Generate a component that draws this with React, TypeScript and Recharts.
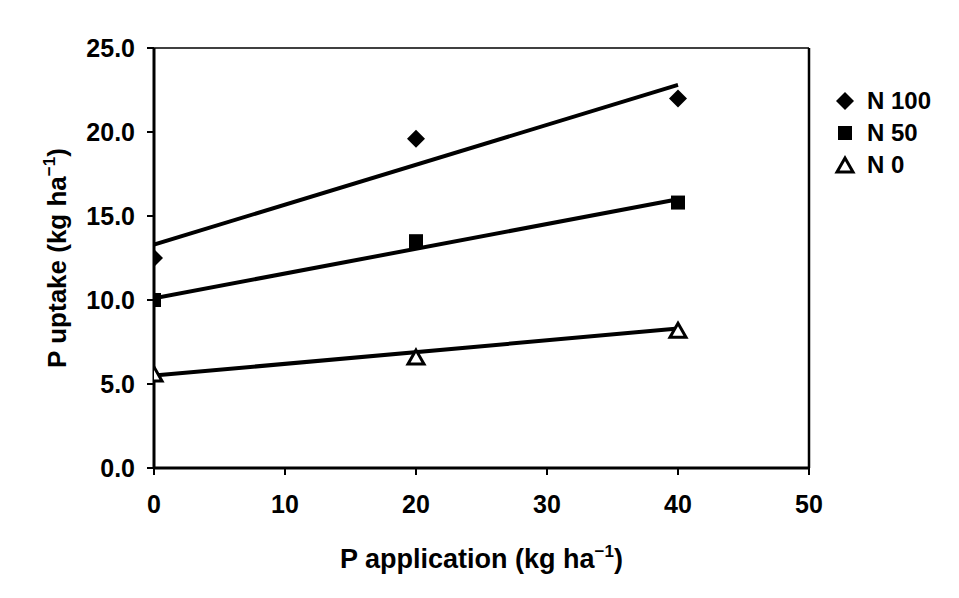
import React from 'react';
import { ScatterChart, Scatter, XAxis, YAxis, ReferenceLine, Label } from 'recharts';

const xTicks = [0, 10, 20, 30, 40, 50];
const yTicks = [0, 5, 10, 15, 20, 25];

const seriesNames = ['N 100', 'N 50', 'N 0'];

const n100 = [
  { x: 0, y: 12.5 },
  { x: 20, y: 19.6 },
  { x: 40, y: 22.0 },
];
const n50 = [
  { x: 0, y: 10.0 },
  { x: 20, y: 13.5 },
  { x: 40, y: 15.8 },
];
const n0 = [
  { x: 0, y: 5.6 },
  { x: 20, y: 6.6 },
  { x: 40, y: 8.2 },
];

const trendN100 = [
  { x: 0, y: 13.3 },
  { x: 40, y: 22.8 },
];
const trendN50 = [
  { x: 0, y: 10.1 },
  { x: 40, y: 16.0 },
];
const trendN0 = [
  { x: 0, y: 5.5 },
  { x: 40, y: 8.3 },
];

const FONT = '"Liberation Sans", Arial, sans-serif';

const Diamond = (props: any) => {
  const { cx, cy } = props;
  const r = 9;
  return <path d={`M${cx},${cy - r}L${cx + r},${cy}L${cx},${cy + r}L${cx - r},${cy}Z`} fill="#000" />;
};
const Square = (props: any) => {
  const { cx, cy } = props;
  const s = 14;
  return <rect x={cx - s / 2} y={cy - s / 2} width={s} height={s} fill="#000" />;
};
const Triangle = (props: any) => {
  const { cx, cy } = props;
  const w = 16;
  const h = 14;
  return (
    <path
      d={`M${cx},${cy - h / 2}L${cx + w / 2},${cy + h / 2}L${cx - w / 2},${cy + h / 2}Z`}
      fill="#fff"
      stroke="#000"
      strokeWidth={3}
      strokeLinejoin="miter"
    />
  );
};
const NoShape = () => <g />;

const icons = [Diamond, Square, Triangle];

const XTitle = (props: any) => {
  const vb = props.viewBox || {};
  const cx = vb.x + vb.width / 2;
  return (
    <text x={cx} y={560} textAnchor="middle" fontFamily={FONT} fontSize={27} fontWeight={700} fill="#000">
      P application (kg ha
      <tspan dy={-11} fontSize={17}>−1</tspan>
      <tspan dy={11}>)</tspan>
    </text>
  );
};

const YTitle = (props: any) => {
  const vb = props.viewBox || {};
  const cy = vb.y + vb.height / 2;
  const cx = 58;
  return (
    <text
      x={cx}
      y={cy}
      transform={`rotate(-90, ${cx}, ${cy})`}
      textAnchor="middle"
      fontFamily={FONT}
      fontSize={26}
      fontWeight={700}
      fill="#000"
    >
      P uptake (kg ha
      <tspan dy={-11} fontSize={17}>−1</tspan>
      <tspan dy={11}>)</tspan>
    </text>
  );
};

export default function App() {
  const tickStyle = { fontFamily: FONT, fontSize: 25, fontWeight: 700, fill: '#000' };
  return (
    <div style={{ width: 943, height: 582, background: '#fff', position: 'relative' }}>
      <ScatterChart width={943} height={582} margin={{ top: 40, right: 142, bottom: 0, left: 0 }}>
        <XAxis
          type="number"
          dataKey="x"
          domain={[0, 50]}
          ticks={xTicks}
          height={122}
          tickSize={7}
          tickMargin={20}
          tick={tickStyle}
          axisLine={{ stroke: '#000', strokeWidth: 3 }}
          tickLine={{ stroke: '#000', strokeWidth: 2 }}
          allowDataOverflow
        >
          <Label content={<XTitle />} />
        </XAxis>
        <YAxis
          type="number"
          dataKey="y"
          domain={[0, 25]}
          ticks={yTicks}
          width={146}
          tickSize={7}
          tickMargin={12}
          tick={tickStyle}
          tickFormatter={(v: number) => v.toFixed(1)}
          axisLine={{ stroke: '#000', strokeWidth: 3 }}
          tickLine={{ stroke: '#000', strokeWidth: 2 }}
          allowDataOverflow
        >
          <Label content={<YTitle />} />
        </YAxis>
        <ReferenceLine y={25} stroke="#000" strokeWidth={1.5} />
        <ReferenceLine x={50} stroke="#000" strokeWidth={2.5} />
        <Scatter data={trendN100} line={{ stroke: '#000', strokeWidth: 4 }} shape={NoShape} legendType="none" isAnimationActive={false} />
        <Scatter data={trendN50} line={{ stroke: '#000', strokeWidth: 4 }} shape={NoShape} legendType="none" isAnimationActive={false} />
        <Scatter data={trendN0} line={{ stroke: '#000', strokeWidth: 4 }} shape={NoShape} legendType="none" isAnimationActive={false} />
        <Scatter name={seriesNames[0]} data={n100} shape={Diamond} isAnimationActive={false} />
        <Scatter name={seriesNames[1]} data={n50} shape={Square} isAnimationActive={false} />
        <Scatter name={seriesNames[2]} data={n0} shape={Triangle} isAnimationActive={false} />
      </ScatterChart>
      <div
        style={{
          position: 'absolute',
          left: 825,
          top: 77,
          fontFamily: FONT,
          fontSize: 24,
          fontWeight: 700,
          color: '#000',
        }}
      >
        {seriesNames.map((name, i) => {
          const Icon = icons[i];
          return (
            <div key={name} style={{ display: 'flex', alignItems: 'center', height: 32 }}>
              <svg width={24} height={24} style={{ marginRight: 10 }}>
                <Icon cx={12} cy={12} />
              </svg>
              <span>{name}</span>
            </div>
          );
        })}
      </div>
    </div>
  );
}
